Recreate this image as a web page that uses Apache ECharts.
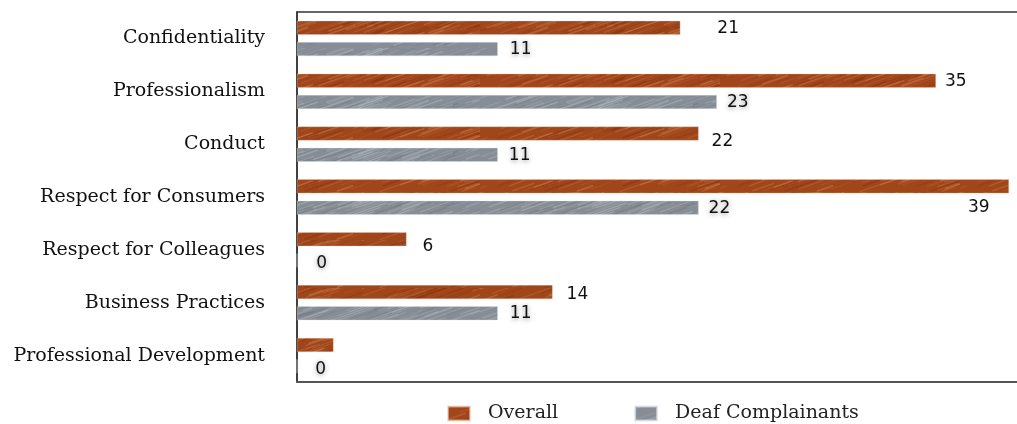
<!DOCTYPE html>
<html>
<head>
<meta charset="utf-8">
<script src="https://cdn.jsdelivr.net/npm/echarts@6/dist/echarts.min.js"></script>
<style>html,body{margin:0;padding:0;background:#fff}#c{width:1017px;height:424px}</style>
</head>
<body>
<div id="c"></div>
<script>
var categories = ['Confidentiality','Professionalism','Conduct','Respect for Consumers','Respect for Colleagues','Business Practices','Professional Development'];
var overallValues = [21, 35, 22, 39, 6, 14, 2];
var deafValues = [11, 23, 11, 22, 0, 11, 0];
var seriesNames = ['Overall', 'Deaf Complainants'];

// label placement (styling, not data)
var overallLabelOffsets = [[37,1],[9,1],[13,8],[-41,21],[16,7],[14,3],null];
var deafLabelOffsets = [[12,1],[10,1],[11,1],[10,1],[19,3],[12,0],[18,3]];

function makePattern(base, light, dark, seed) {
  var cv = document.createElement('canvas');
  cv.width = 240; cv.height = 48;
  var ctx = cv.getContext('2d');
  ctx.fillStyle = base; ctx.fillRect(0,0,240,48);
  var s = seed;
  function next(){ s = (s * 73 + 41) % 997; return s / 997; }
  for (var i = 0; i < 160; i++) {
    var x = next()*260 - 10, y = next()*48, len = 10 + next()*40;
    ctx.strokeStyle = (i % 3 === 0) ? dark : light;
    ctx.globalAlpha = 0.15 + next()*0.25;
    ctx.lineWidth = 0.6 + next()*1.2;
    ctx.beginPath(); ctx.moveTo(x, y); ctx.lineTo(x + len, y - len*0.35); ctx.stroke();
  }
  ctx.globalAlpha = 1;
  return cv;
}
var orangePat = makePattern('#a1451b', '#d2905a', '#7a2e0e', 17);
var grayPat = makePattern('#868d96', '#c3c8ce', '#6b7079', 29);

function buildData(vals, offs) {
  return vals.map(function (v, i) {
    var o = offs[i];
    return {
      value: v,
      label: o ? { show: true, offset: o } : { show: false }
    };
  });
}

var chart = echarts.init(document.getElementById('c'), null, {renderer: 'canvas'});
var labelBase = {
  position: 'right', distance: 0, color: '#111',
  fontFamily: 'DejaVu Sans', fontSize: 17,
  formatter: '{c}'
};
chart.setOption({
  animation: false,
  backgroundColor: '#fff',
  grid: { left: 297, top: 12, right: 0, bottom: 42, containLabel: false },
  legend: {
    left: 447, top: 404, padding: 0, itemWidth: 22, itemHeight: 14, itemGap: 76,
    icon: 'rect',
    textStyle: { fontFamily: 'DejaVu Serif', fontSize: 19, color: '#222', padding: [0,0,0,13] },
    data: seriesNames
  },
  xAxis: [
    { type: 'value', min: 0, max: 39.44, position: 'bottom',
      axisLine: { show: true, lineStyle: { color: '#555', width: 2 } },
      axisTick: { show: false }, axisLabel: { show: false }, splitLine: { show: false } },
    { type: 'value', min: 0, max: 39.44, position: 'top',
      axisLine: { show: true, lineStyle: { color: '#333', width: 1.5 } },
      axisTick: { show: false }, axisLabel: { show: false }, splitLine: { show: false } }
  ],
  yAxis: {
    type: 'category', inverse: true, data: categories,
    axisLine: { show: true, lineStyle: { color: '#000', width: 1.5 } },
    axisTick: { show: false },
    axisLabel: { margin: 32, fontFamily: 'DejaVu Serif', fontSize: 19, color: '#111', padding: [4,0,0,0] }
  },
  series: [
    { name: seriesNames[0], type: 'bar', barWidth: 14, barGap: '52%',
      itemStyle: { color: { image: orangePat, repeat: 'repeat' }, borderColor: 'rgba(240,200,180,0.6)', borderWidth: 0.5 },
      label: labelBase,
      data: buildData(overallValues, overallLabelOffsets) },
    { name: seriesNames[1], type: 'bar', barWidth: 14, barGap: '52%',
      itemStyle: { color: { image: grayPat, repeat: 'repeat' }, borderColor: 'rgba(220,225,230,0.7)', borderWidth: 0.5 },
      label: Object.assign({}, labelBase, { textShadowColor: 'rgba(0,0,0,0.45)', textShadowBlur: 5, textShadowOffsetY: 1 }),
      data: buildData(deafValues, deafLabelOffsets) }
  ]
});
</script>
</body>
</html>
